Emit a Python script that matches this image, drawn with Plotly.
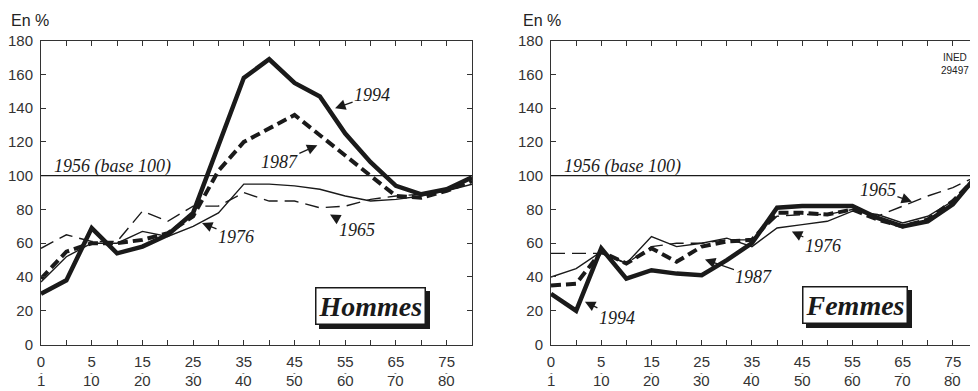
import plotly.graph_objects as go

# ---------------- data ----------------
age_pos = list(range(18))                      # age-group index along x
tick_top = ["0", "5", "15", "25", "35", "45", "55", "65", "75"]
tick_bottom = ["1", "10", "20", "30", "40", "50", "60", "70", "80"]
tick_pos = [0, 2, 4, 6, 8, 10, 12, 14, 16]

hommes_1965 = [57, 65, 61, 61, 79, 73, 82, 82, 90, 85, 85, 81, 82, 86, 88, 89, 91, 96]
hommes_1976 = [37, 52, 60, 60, 67, 64, 70, 78, 95, 95, 94, 92, 88, 85, 86, 88, 91, 95]
hommes_1987 = [39, 55, 60, 60, 62, 66, 76, 103, 120, 128, 136, 124, 112, 100, 88, 87, 91, 97]
hommes_1994 = [30, 38, 69, 54, 58, 65, 78, 118, 158, 169, 155, 147, 125, 108, 94, 89, 92, 99]

femmes_1965 = [54, 54, 54, 48, 58, 60, 60, 62, 62, 76, 77, 77, 80, 76, 82, 88, 93, 100]
femmes_1976 = [40, 45, 55, 48, 64, 58, 60, 63, 58, 69, 71, 73, 79, 77, 72, 76, 85, 98]
femmes_1987 = [35, 36, 55, 48, 57, 49, 58, 61, 62, 78, 78, 77, 80, 74, 70, 74, 85, 100]
femmes_1994 = [30, 20, 57, 39, 44, 42, 41, 50, 60, 81, 82, 82, 82, 75, 70, 73, 83, 101]

base_value = 100

# ---------------- layout helpers ----------------
# the page body has an 8px default margin; the figure is sized so that it fills the window
OFF = 8
W, H = 978 - OFF, 391 - OFF


def fx(px):
    return (px - OFF) / W


def fy(py):
    return 1 - (py - OFF) / H


INK = "#1a1a1a"
SERIF = "Liberation Serif, Times New Roman, serif"
SANS = "Liberation Sans, Arial, sans-serif"

styles = {
    "1965": dict(width=1.4, dash="14px,7px"),
    "1976": dict(width=1.4, dash="solid"),
    "1987": dict(width=4, dash="10px,5px"),
    "1994": dict(width=4.5, dash="solid"),
}

fig = go.Figure()

panels = [
    ("x", "y", {"1965": hommes_1965, "1976": hommes_1976, "1987": hommes_1987, "1994": hommes_1994}),
    ("x2", "y2", {"1965": femmes_1965, "1976": femmes_1976, "1987": femmes_1987, "1994": femmes_1994}),
]
for xa, ya, series in panels:
    for year in ["1965", "1976", "1987", "1994"]:
        st = styles[year]
        fig.add_trace(go.Scatter(
            x=age_pos, y=series[year], xaxis=xa, yaxis=ya, mode="lines",
            line=dict(color=INK, width=st["width"], dash=st["dash"]),
            name=year, showlegend=False, hoverinfo="skip"))

common_x = dict(
    range=[0, 17], tickmode="array", tickvals=tick_pos, ticktext=tick_top,
    ticks="inside", ticklen=5, tickwidth=1, tickcolor="#333",
    minor=dict(tickmode="array", tickvals=age_pos, ticks="inside", ticklen=5, tickcolor="#333"),
    showline=True, linecolor="#333", linewidth=1, mirror="ticks",
    showgrid=False, zeroline=False, automargin=False, ticklabelstandoff=3,
    tickfont=dict(family=SANS, size=15, color="#333"), fixedrange=True,
)
common_y = dict(
    range=[0, 180], tickmode="linear", tick0=0, dtick=20,
    ticks="inside", ticklen=5, tickwidth=1, tickcolor="#333",
    showline=True, linecolor="#333", linewidth=1, mirror="ticks",
    showgrid=False, zeroline=False, automargin=False, ticklabelstandoff=4,
    tickfont=dict(family=SANS, size=15, color="#333"), fixedrange=True,
)

ydom = [fy(344.5), fy(40.7)]
fig.update_layout(
    width=W, height=H,
    margin=dict(l=0, r=0, t=0, b=0),
    paper_bgcolor="white", plot_bgcolor="white",
    xaxis=dict(domain=[fx(41), fx(472)], anchor="y", **common_x),
    yaxis=dict(domain=ydom, anchor="x", **common_y),
    xaxis2=dict(domain=[fx(551), 1.0], anchor="y2", **common_x),
    yaxis2=dict(domain=ydom, anchor="x2", **common_y),
)

# base 100 reference lines
for xa, ya in [("x", "y"), ("x2", "y2")]:
    fig.add_shape(type="line", xref=f"{xa} domain", yref=ya, x0=0, x1=1,
                  y0=base_value, y1=base_value, line=dict(color=INK, width=1.2))

ann = []
# "En %" labels
for xp in [fx(9), fx(521)]:
    ann.append(dict(text="En %", xref="paper", yref="paper", x=xp, y=fy(20),
                    xanchor="left", yanchor="middle", showarrow=False,
                    font=dict(family=SANS, size=16, color="#222")))
# base labels
for xa, ya in [("x", "y"), ("x2", "y2")]:
    ann.append(dict(text="<i>1956 (base 100)</i>", xref=xa, yref=ya, x=0.45, y=base_value,
                    xanchor="left", yanchor="bottom", showarrow=False, yshift=-3,
                    font=dict(family=SERIF, size=18, color=INK)))

# second row of the age labels, with a small dash between the two rows
for xa in ["x", "x2"]:
    for p, lab in zip(tick_pos, tick_bottom):
        ann.append(dict(text="-", xref=xa, yref="paper", x=p, y=fy(372),
                        xanchor="center", yanchor="middle", showarrow=False,
                        font=dict(family=SANS, size=8, color="#333")))
        ann.append(dict(text=lab, xref=xa, yref="paper", x=p, y=fy(390),
                        xanchor="center", yanchor="bottom", showarrow=False,
                        borderpad=0, font=dict(family=SANS, size=15, color="#333")))

# year labels with arrows: (text, xref, yref, x_tip, y_tip, ax, ay)
year_labels = [
    ("1994", "x", "y", 11.6, 140, 37, -13),
    ("1987", "x", "y", 10.9, 118, -38, 17),
    ("1976", "x", "y", 6.35, 72, 34, 14),
    ("1965", "x", "y", 11.4, 77, 27, 15),
    ("1965", "x2", "y2", 14.37, 84.6, -34, -12),
    ("1976", "x2", "y2", 9.59, 67, 31, 15),
    ("1987", "x2", "y2", 6.13, 50.3, 49, 17),
    ("1994", "x2", "y2", 1.35, 25.4, 32, 16),
]
for txt, xa, ya, xt, yt, axp, ayp in year_labels:
    ann.append(dict(text=f"<i>{txt}</i>", xref=xa, yref=ya, x=xt, y=yt,
                    ax=axp, ay=ayp, axref="pixel", ayref="pixel",
                    showarrow=True, arrowhead=2, arrowsize=1.6, arrowwidth=1.3,
                    arrowcolor=INK, standoff=0,
                    font=dict(family=SERIF, size=18, color=INK)))

# boxed titles with shadow
for txt, xa, ya, xc, yc in [("Hommes", "x", "y", 13.0, 23.0), ("Femmes", "x2", "y2", 12.1, 23.5)]:
    label = f"<b><i>{txt}</i></b>"
    ann.append(dict(text=label, xref=xa, yref=ya, x=xc, y=yc, showarrow=False,
                    xshift=4, yshift=-4, bgcolor=INK, bordercolor=INK, borderwidth=1.5,
                    borderpad=2, font=dict(family=SERIF, size=28, color=INK)))
    ann.append(dict(text=label, xref=xa, yref=ya, x=xc, y=yc, showarrow=False,
                    bgcolor="white", bordercolor=INK, borderwidth=1.5, borderpad=2,
                    font=dict(family=SERIF, size=28, color=INK)))

# INED mark
ann.append(dict(text="INED<br>29497", xref="x2", yref="y2", x=16.1, y=166,
                xanchor="center", yanchor="middle", showarrow=False,
                font=dict(family=SANS, size=10, color="#222")))

fig.update_layout(annotations=ann)
fig.write_html("out.html")
